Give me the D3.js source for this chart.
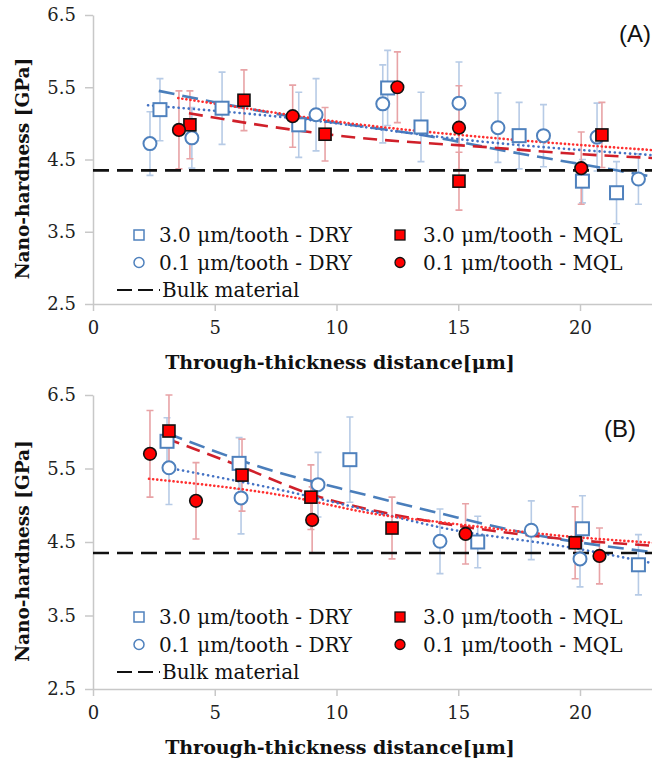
<!DOCTYPE html>
<html>
<head>
<meta charset="utf-8">
<script src="https://cdn.jsdelivr.net/npm/d3@7"></script>
<style>
  body { margin: 0; background: #fff; }
  svg { display: block; }
</style>
</head>
<body>
<div id="chart"></div>
<script>
// ---- data: [distance µm, hardness GPa, error ±] ----
const bulkHardness = 4.35;
const xTicks = [0, 5, 10, 15, 20];
const yTicks = [2.5, 3.5, 4.5, 5.5, 6.5];

// Panel A
const aDry30 = [[2.75, 5.19, 0.43], [5.3, 5.21, 0.5], [8.45, 4.98, 0.45], [12.1, 5.49, 0.52],
  [13.47, 4.95, 0.48], [17.5, 4.83, 0.46], [20.1, 4.2, 0.3], [21.5, 4.04, 0.43]];
const aDry01 = [[2.34, 4.72, 0.44], [4.06, 4.8, 0.42], [9.16, 5.12, 0.5], [11.9, 5.27, 0.54],
  [15.03, 5.28, 0.57], [16.63, 4.94, 0.48], [18.5, 4.83, 0.43], [20.7, 4.81, 0.47], [22.4, 4.23, 0.35]];
const aMql30 = [[3.98, 4.98, 0.47], [6.2, 5.32, 0.42], [9.53, 4.85, 0.37], [15.03, 4.2, 0.4], [20.9, 4.84, 0.45]];
const aMql01 = [[3.53, 4.91, 0.54], [8.2, 5.1, 0.43], [12.5, 5.5, 0.49], [15.03, 4.94, 0.58], [20.05, 4.38, 0.5]];

// trend lines, panel A
const aTrendDry30 = [[2.7, 5.45], [7.06, 5.16], [14.66, 4.77], [16.3, 4.66], [21.5, 4.35], [23, 4.26]];
const aTrendDry01 = [[2.26, 5.25], [7.7, 5.09], [15.9, 4.75], [23, 4.56]];
const aTrendMql30 = [[3.94, 5.14], [7.4, 4.95], [10.1, 4.83], [16.6, 4.66], [19.3, 4.59], [23, 4.52]];
const aTrendMql01 = [[3.5, 5.35], [6.45, 5.2], [10.1, 5.02], [16.7, 4.79], [23, 4.63]];

// Panel B
const bDry30 = [[3.04, 5.87, 0.32], [6.0, 5.57, 0.35], [10.55, 5.62, 0.58], [15.8, 4.5, 0.35],
  [20.1, 4.68, 0.45], [22.4, 4.19, 0.41]];
const bDry01 = [[3.12, 5.51, 0.5], [6.08, 5.1, 0.49], [9.24, 5.28, 0.44], [14.25, 4.51, 0.44],
  [18.0, 4.66, 0.4], [20.0, 4.27, 0.38]];
const bMql30 = [[3.12, 6.01, 0.49], [6.12, 5.41, 0.49], [8.95, 5.11, 0.44], [12.28, 4.69, 0.42], [19.8, 4.49, 0.49]];
const bMql01 = [[2.34, 5.7, 0.59], [4.23, 5.06, 0.52], [9.0, 4.8, 0.45], [15.3, 4.61, 0.41], [20.8, 4.31, 0.38]];

const bTrendDry30 = [[3.04, 5.98], [7.68, 5.44], [10.14, 5.23], [14.25, 4.89], [18.1, 4.6], [23, 4.36]];
const bTrendDry01 = [[3.08, 5.51], [7.68, 5.21], [11.8, 4.89], [14.25, 4.7], [19.7, 4.42], [23, 4.21]];
const bTrendMql30 = [[3.0, 5.91], [6.04, 5.53], [9.03, 5.14], [11.8, 4.91], [14.25, 4.76], [19.7, 4.53], [23, 4.45]];
const bTrendMql01 = [[2.3, 5.36], [7.68, 5.14], [11.8, 4.87], [14.25, 4.77], [19.7, 4.57], [23, 4.49]];

const legendLabels = ["3.0 μm/tooth - DRY", "3.0 μm/tooth - MQL", "0.1 μm/tooth - DRY", "0.1 μm/tooth - MQL", "Bulk material"];

// ---- styles ----
const blue = "#4f81bd";
const blueErr = "#b7cbe6";
const red = "#ff0000";
const redErr = "#e8a3a6";
const serif = "'DejaVu Serif', 'Liberation Serif', serif";

const width = 652, height = 762;

const svg = d3.select("#chart").append("svg")
  .attr("width", width)
  .attr("height", height)
  .style("background", "#fff");

const x = d3.scaleLinear().domain([0, 25]).range([93, 93 + 25 * 24.35]);

function drawPanel(cfg) {
  const y = d3.scaleLinear().domain([2.5, 6.5]).range([cfg.bottom, cfg.top]);
  const g = svg.append("g");

  // y axis
  const yAxis = g.append("g")
    .attr("transform", `translate(${x(0)},0)`)
    .call(d3.axisLeft(y).tickValues(yTicks).tickFormat(d3.format(".1f")).tickSize(8).tickSizeOuter(0).tickPadding(4));
  yAxis.select(".domain").attr("stroke", "#c8c8c8").attr("stroke-width", 1.5);
  yAxis.selectAll(".tick line").attr("stroke", "#c8c8c8").attr("stroke-width", 1.5);
  yAxis.selectAll(".tick text").attr("font-family", serif).attr("font-size", 18).attr("fill", "#222").attr("dx", -5);

  // x axis
  const xAxis = g.append("g")
    .attr("transform", `translate(0,${cfg.bottom})`)
    .call(d3.axisBottom(x).tickValues(xTicks).tickFormat(d3.format("d")).tickSize(7).tickSizeOuter(0).tickPadding(10));
  xAxis.select(".domain").attr("stroke", "#c8c8c8").attr("stroke-width", 1.5);
  xAxis.selectAll(".tick line").attr("stroke", "#c8c8c8").attr("stroke-width", 1.5);
  xAxis.selectAll(".tick text").attr("font-family", serif).attr("font-size", 18).attr("fill", "#222");

  // axis titles
  g.append("text")
    .attr("transform", `translate(29,${(cfg.top + cfg.bottom) / 2 + 9}) rotate(-90)`)
    .attr("text-anchor", "middle")
    .attr("font-family", serif)
    .attr("font-weight", "bold")
    .attr("font-size", 18.5)
    .attr("fill", "#111")
    .text("Nano-hardness [GPa]");

  g.append("text")
    .attr("x", 340)
    .attr("y", cfg.bottom + 65)
    .attr("text-anchor", "middle")
    .attr("font-family", serif)
    .attr("font-weight", "bold")
    .attr("font-size", 19)
    .attr("fill", "#111")
    .text("Through-thickness distance[μm]");

  // error bars
  const errSets = [
    { data: cfg.dry30, color: blueErr }, { data: cfg.dry01, color: blueErr },
    { data: cfg.mql30, color: redErr }, { data: cfg.mql01, color: redErr }
  ];
  errSets.forEach(s => {
    const eb = g.append("g").attr("stroke", s.color).attr("stroke-width", 1.6).attr("fill", "none");
    eb.selectAll("path")
      .data(s.data)
      .join("path")
      .attr("d", d => {
        const cx = x(d[0]), y0 = y(d[1] - d[2]), y1 = y(d[1] + d[2]);
        return `M${cx},${y0}V${y1}M${cx - 3.5},${y0}H${cx + 3.5}M${cx - 3.5},${y1}H${cx + 3.5}`;
      });
  });

  // trend lines
  const line = d3.line().x(d => x(d[0])).y(d => y(d[1])).curve(d3.curveMonotoneX);
  const trends = [
    { data: cfg.tDry30, color: "#4a7ebb", dash: "16,8", cap: "butt" },
    { data: cfg.tMql30, color: "#d0202a", dash: "14,8", cap: "butt" },
    { data: cfg.tDry01, color: "#4472c4", dash: "0.1,5", cap: "round" },
    { data: cfg.tMql01, color: "#ff3030", dash: "0.1,4", cap: "round" }
  ];
  trends.forEach(t => {
    g.append("path")
      .attr("d", line(t.data))
      .attr("fill", "none")
      .attr("stroke", t.color)
      .attr("stroke-width", 2.6)
      .attr("stroke-dasharray", t.dash)
      .attr("stroke-linecap", t.cap);
  });

  // bulk material line
  g.append("line")
    .attr("x1", x(0)).attr("x2", width)
    .attr("y1", y(bulkHardness)).attr("y2", y(bulkHardness))
    .attr("stroke", "#111")
    .attr("stroke-width", 2.6)
    .attr("stroke-dasharray", "16,8");

  // markers
  g.append("g").selectAll("rect")
    .data(cfg.dry30)
    .join("rect")
    .attr("x", d => x(d[0]) - 6.5).attr("y", d => y(d[1]) - 6.5)
    .attr("width", 13).attr("height", 13)
    .attr("fill", "#fff").attr("stroke", blue).attr("stroke-width", 2);

  g.append("g").selectAll("circle")
    .data(cfg.dry01)
    .join("circle")
    .attr("cx", d => x(d[0])).attr("cy", d => y(d[1]))
    .attr("r", 6.5)
    .attr("fill", "#fff").attr("stroke", blue).attr("stroke-width", 2);

  g.append("g").selectAll("rect")
    .data(cfg.mql30)
    .join("rect")
    .attr("x", d => x(d[0]) - 6).attr("y", d => y(d[1]) - 6)
    .attr("width", 12).attr("height", 12)
    .attr("fill", red).attr("stroke", "#111").attr("stroke-width", 1.6);

  g.append("g").selectAll("circle")
    .data(cfg.mql01)
    .join("circle")
    .attr("cx", d => x(d[0])).attr("cy", d => y(d[1]))
    .attr("r", 6.3)
    .attr("fill", red).attr("stroke", "#111").attr("stroke-width", 1.6);

  // legend
  const lg = g.append("g").attr("font-family", serif).attr("font-size", 20).attr("fill", "#111");
  const rows = [cfg.legendY, cfg.legendY + 27.5, cfg.legendY + 55];
  lg.append("rect").attr("x", 134).attr("y", rows[0] - 5).attr("width", 10).attr("height", 10)
    .attr("fill", "#fff").attr("stroke", blue).attr("stroke-width", 1.5);
  lg.append("circle").attr("cx", 139).attr("cy", rows[1]).attr("r", 5)
    .attr("fill", "#fff").attr("stroke", blue).attr("stroke-width", 1.5);
  lg.append("rect").attr("x", 395).attr("y", rows[0] - 5).attr("width", 10).attr("height", 10)
    .attr("fill", red).attr("stroke", "#111").attr("stroke-width", 1.3);
  lg.append("circle").attr("cx", 400).attr("cy", rows[1]).attr("r", 5)
    .attr("fill", red).attr("stroke", "#111").attr("stroke-width", 1.3);
  lg.append("line").attr("x1", 117).attr("x2", 160).attr("y1", rows[2]).attr("y2", rows[2])
    .attr("stroke", "#111").attr("stroke-width", 2.2).attr("stroke-dasharray", "15,6");

  const textPos = [[159, rows[0]], [423, rows[0]], [159, rows[1]], [423, rows[1]], [162, rows[2]]];
  legendLabels.forEach((t, i) => {
    lg.append("text")
      .attr("x", textPos[i][0])
      .attr("y", textPos[i][1] + 7)
      .text(t);
  });

  // panel tag
  g.append("text")
    .attr("x", cfg.tagX)
    .attr("y", cfg.tagY)
    .attr("font-family", "'Liberation Sans', Arial, sans-serif")
    .attr("font-size", 24)
    .attr("fill", "#111")
    .text(cfg.tag);
}

drawPanel({
  top: 15, bottom: 304, legendY: 235, tag: "(A)", tagX: 619, tagY: 42,
  dry30: aDry30, dry01: aDry01, mql30: aMql30, mql01: aMql01,
  tDry30: aTrendDry30, tDry01: aTrendDry01, tMql30: aTrendMql30, tMql01: aTrendMql01
});

drawPanel({
  top: 395, bottom: 689, legendY: 617, tag: "(B)", tagX: 604, tagY: 437,
  dry30: bDry30, dry01: bDry01, mql30: bMql30, mql01: bMql01,
  tDry30: bTrendDry30, tDry01: bTrendDry01, tMql30: bTrendMql30, tMql01: bTrendMql01
});
</script>
</body>
</html>
